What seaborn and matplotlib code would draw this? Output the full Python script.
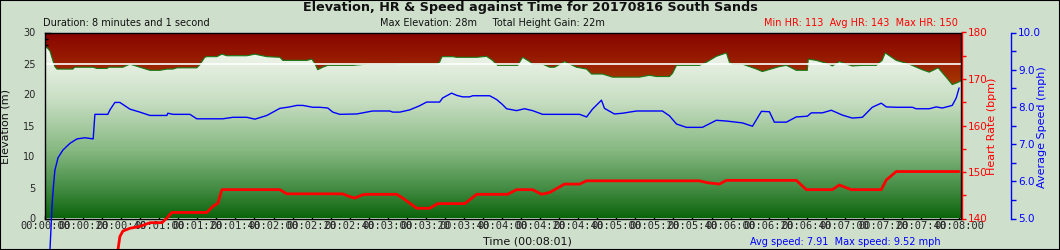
import numpy as np
import pandas as pd
import matplotlib
matplotlib.use("Agg")
import matplotlib.pyplot as plt
import matplotlib.ticker as mticker
from matplotlib.patches import Rectangle
import seaborn as sns

# ---------------- data ----------------
elev_t = [0, 1.6, 2.6, 4, 5.2, 6.3, 14.7, 15.5, 25.2, 27.3, 32.5, 33.5, 40.9, 44.6, 49.8,
          55.1, 60.3, 64, 67.2, 69.3, 79.7, 81.3, 83.9, 85, 90.2, 92.9, 95.5, 106, 110.2,
          116.5, 123.3, 124.9, 128.5, 137.5, 140.1, 141.7, 143.2, 145.9, 148.5, 161.6,
          168.9, 182.6, 187.8, 205.7, 207.2, 208.3, 208.8, 214.1, 216.2, 226.7, 231.9,
          235, 237.7, 248.2, 250.8, 254.5, 256, 261.3, 265, 267.6, 272.8, 279.1, 284.4,
          287, 292.8, 298, 312.2, 317.4, 321.1, 327.9, 329.5, 331.6, 343.6, 347.3, 352.5,
          357.8, 359.4, 361, 366.2, 373.6, 376.7, 385.6, 389.3, 394.5, 400.3, 400.8, 405,
          411.8, 413.4, 417.1, 423.9, 429.2, 436.5, 439.6, 441.2, 447, 453.8, 460.6,
          464.3, 469, 473.2, 476.4, 479, 481]
elev_m = [27.8, 27.4, 27.0, 25.6, 24.5, 24.1, 24.1, 24.4, 24.4, 24.2, 24.2, 24.4, 24.4, 24.9, 24.4,
          23.9, 23.9, 24.1, 24.1, 24.3, 24.3, 24.8, 26.0, 26.1, 26.1, 26.5, 26.25, 26.25, 26.5,
          26.1, 26.0, 25.5, 25.5, 25.5, 25.7, 25.0, 24.0, 24.4, 24.7, 24.7,
          24.9, 24.9, 24.95, 24.95, 25.2, 26.0, 26.1, 26.1, 26.0, 26.0, 26.15,
          25.5, 24.7, 24.7, 26.0, 25.3, 24.9, 24.9, 24.4, 24.4, 25.3, 24.4, 24.1,
          23.3, 23.3, 22.8, 22.8, 23.1, 22.9, 22.9, 23.4, 24.7, 24.7, 25.2, 26.15,
          26.7, 25.2, 24.9, 24.9, 24.1, 23.7, 24.5, 24.7, 23.9, 23.9, 25.7, 25.5,
          24.9, 24.6, 25.3, 24.6, 24.7, 24.7, 25.5, 26.7, 25.5, 24.9, 24.0,
          23.6, 24.3, 22.8, 21.6, 21.9, 22.2]

speed_t = [2.4, 2.6, 3.4, 3.8, 4.4, 5.2, 6.1, 6.8, 9.4, 13.1, 16.8, 21, 25.3, 26.2, 33, 34.1,
           36.7, 39.3, 44.6, 49.8, 55.1, 64, 64.5, 67.2, 76.1, 79.7, 93.4, 98.6, 106, 110.2,
           116.5, 123.3, 128.5, 132.2, 135.4, 140.6, 144.3, 148.5, 151.1, 154.8, 163.7,
           168.9, 172.1, 181, 182.6, 186.3, 191.5, 196.7, 200.4, 207.2, 208.8, 213.5,
           216.2, 219.3, 223, 224.6, 233.5, 237.1, 240.3, 242.4, 247.6, 251.8, 256,
           261.3, 280.7, 284.4, 287.5, 292.2, 293.8, 299, 303.3, 310.6, 324.2, 327.9,
           331.6, 336.8, 345.2, 352.5, 357.8, 366.2, 371.5, 376.2, 380.4, 383, 389.3,
           394.5, 400.3, 402.4, 408.2, 412.9, 418.7, 423.9, 429.2, 434.4, 439.1, 441.8,
           447, 455.4, 457.5, 464.3, 468, 471.2, 476.4, 478.5, 480]
speed_mph = [3.2, 4.15, 5.0, 5.44, 5.85, 6.3, 6.48, 6.63, 6.84, 7.02, 7.14, 7.17, 7.14, 7.8, 7.8, 7.92,
             8.12, 8.12, 7.94, 7.86, 7.77, 7.77, 7.83, 7.8, 7.8, 7.68, 7.68, 7.72, 7.72, 7.67,
             7.77, 7.96, 8.0, 8.04, 8.04, 7.99, 7.99, 7.97, 7.86, 7.8, 7.81,
             7.86, 7.89, 7.89, 7.86, 7.86, 7.92, 8.03, 8.13, 8.13, 8.24, 8.37,
             8.31, 8.27, 8.27, 8.3, 8.3, 8.2, 8.06, 7.95, 7.9, 7.95, 7.9,
             7.8, 7.8, 7.73, 7.94, 8.18, 7.96, 7.81, 7.83, 7.89, 7.89, 7.76,
             7.54, 7.45, 7.45, 7.64, 7.62, 7.57, 7.48, 7.88, 7.87, 7.59, 7.59,
             7.73, 7.75, 7.84, 7.84, 7.91, 7.78, 7.70, 7.72, 7.99, 8.10, 8.0,
             7.99, 7.99, 7.95, 7.95, 8.0, 7.97, 8.04, 8.24, 8.51]

hr_t = [0, 38.3, 39.3, 40.9, 44.6, 49.8, 55.1, 61.4, 64, 66.6, 85, 88.1, 90.8, 92.9, 123.3,
        127, 156.3, 160, 162.6, 166.8, 168.9, 184.7, 187.8, 195.2, 202, 206.2, 220.4,
        226.7, 242.9, 247.6, 256, 260.8, 265, 272.8, 280.7, 284.4, 343.6, 347.8, 354.1,
        357.8, 394.5, 399.8, 413.4, 417.1, 423.4, 439.1, 441.8, 447, 480]
hr_bpm = [113, 133.2, 136.1, 137.3, 137.9, 138.3, 139.1, 139.1, 140.1, 141.3, 141.3, 142.6, 143.3, 146.2, 146.2,
          145.3, 145.3, 144.7, 144.4, 145.1, 145.2, 145.2, 144.4, 142.2, 142.2, 143.2, 143.2,
          145.2, 145.2, 146.2, 146.2, 145.2, 145.6, 147.4, 147.4, 148.1, 148.1, 147.7, 147.4,
          148.2, 148.2, 146.2, 146.2, 147.2, 146.2, 146.2, 148.3, 150.1, 150.1]

elev_df = pd.DataFrame({"t": elev_t, "elev": elev_m})
speed_df = pd.DataFrame({"t": speed_t, "speed": speed_mph})
hr_df = pd.DataFrame({"t": hr_t, "hr": hr_bpm})

title = "Elevation, HR & Speed against Time for 20170816 South Sands"
t_end = 481

# ---------------- style ----------------
sns.set_theme(style="ticks")
plt.rcParams["font.family"] = ["DejaVu Sans"]
BG = "#cedfcc"

W, H = 1060, 250
fig = plt.figure(figsize=(W / 100, H / 100), dpi=100, facecolor=BG)
x0, x1, ytop, ybot = 45, 961, 32.5, 218.5
ax = fig.add_axes([x0 / W, 1 - ybot / H, (x1 - x0) / W, (ybot - ytop) / H])
ax.set_facecolor("none")

# gradient backgrounds
N = 300
lev = np.linspace(30, 0, N)
red_stops_e = [0, 22, 26, 30]
red_stops_c = [(185, 85, 0), (164, 52, 0), (150, 26, 0), (136, 4, 0)]
red = np.stack([np.interp(lev, red_stops_e, [c[i] for c in red_stops_c]) for i in range(3)], axis=-1) / 255
grn_stops_e = [0, 4.5, 11, 19, 28, 30]
grn_stops_c = [(10, 100, 10), (65, 138, 65), (135, 185, 130), (200, 222, 195), (245, 248, 242), (250, 252, 248)]
grn = np.stack([np.interp(lev, grn_stops_e, [c[i] for c in grn_stops_c]) for i in range(3)], axis=-1) / 255

ax.imshow(red[:, None, :], extent=[0, t_end, 0, 30], aspect="auto", origin="upper", zorder=0)
poly = ax.fill_between(elev_df["t"], elev_df["elev"], 0, facecolor="none", edgecolor="none")
gimg = ax.imshow(grn[:, None, :], extent=[0, t_end, 0, 30], aspect="auto", origin="upper", zorder=1)
gimg.set_clip_path(poly.get_paths()[0], transform=ax.transData)

sns.lineplot(data=elev_df, x="t", y="elev", ax=ax, color="#167a16", linewidth=0.8, zorder=2)
ax.axhline(25, color="white", linewidth=1.2, zorder=2.5)

ax.set_xlim(0, t_end)
ax.set_ylim(0, 30)
ax.set_xlabel("")
ax.set_ylabel("")

for s in ax.spines.values():
    s.set_color("black")
    s.set_linewidth(1)
ax.xaxis.set_major_locator(mticker.MultipleLocator(20))
ax.xaxis.set_minor_locator(mticker.MultipleLocator(10))
ax.xaxis.set_major_formatter(mticker.FuncFormatter(
    lambda v, p: f"{int(v)//3600:02d}:{int(v)%3600//60:02d}:{int(v)%60:02d}"))
ax.yaxis.set_major_locator(mticker.MultipleLocator(5))
ax.yaxis.set_minor_locator(mticker.MultipleLocator(1))
ax.tick_params(axis="x", which="both", direction="in", length=3, width=1, color="black",
               labelsize=7.5, pad=2)
ax.tick_params(axis="y", which="major", direction="in", length=4.5, width=1, color="black",
               labelsize=7, pad=7)
ax.tick_params(axis="y", which="minor", direction="in", length=2.5, width=1, color="black")
for lbl in ax.get_xticklabels():
    lbl.set_fontfamily("DejaVu Sans Mono")

# HR axis
ax2 = ax.twinx()
ax2.set_facecolor("none")
sns.lineplot(data=hr_df, x="t", y="hr", ax=ax2, color="#ff0000", linewidth=2.0)
for ln in ax2.lines:
    ln.set_clip_on(False)
ax2.set_ylim(140, 180)
ax2.set_xlim(0, t_end)
ax2.set_ylabel("")
for k in ["left", "top", "bottom"]:
    ax2.spines[k].set_visible(False)
ax2.spines["right"].set_color("#ff0000")
ax2.spines["right"].set_position(("outward", 1))
ax2.spines["right"].set_linewidth(1)
ax2.yaxis.set_major_locator(mticker.MultipleLocator(10))
ax2.yaxis.set_minor_locator(mticker.MultipleLocator(5))
ax2.tick_params(axis="y", which="both", direction="out", length=3, width=1, color="#ff0000",
                labelcolor="#ff0000", labelsize=7.5, pad=1)

# Speed axis
ax3 = ax.twinx()
ax3.set_facecolor("none")
sns.lineplot(data=speed_df, x="t", y="speed", ax=ax3, color="#0000ff", linewidth=1.0)
for ln in ax3.lines:
    ln.set_clip_on(False)
ax3.set_ylim(5, 10)
ax3.set_xlim(0, t_end)
ax3.set_ylabel("")
for k in ["left", "top", "bottom"]:
    ax3.spines[k].set_visible(False)
ax3.spines["right"].set_position(("axes", (1011 - x0) / (x1 - x0)))
ax3.spines["right"].set_color("#0000ff")
ax3.spines["right"].set_linewidth(1)
ax3.yaxis.set_major_locator(mticker.MultipleLocator(1))
ax3.yaxis.set_minor_locator(mticker.MultipleLocator(0.5))
ax3.yaxis.set_major_formatter(mticker.FormatStrFormatter("%.1f"))
ax3.tick_params(axis="y", which="both", direction="out", length=3.5, width=1, color="#0000ff",
                labelcolor="#0000ff", labelsize=7.5, pad=1.5)

# texts
fig.text(530 / W, 1 - 8 / H, title, ha="center", va="center", fontsize=9.2,
         fontweight="bold", color="#111111")
fig.text(43 / W, 1 - 23 / H, "Duration: 8 minutes and 1 second", ha="left", va="center",
         fontsize=7, color="#111111")
fig.text(380 / W, 1 - 23 / H, "Max Elevation: 28m     Total Height Gain: 22m", ha="left",
         va="center", fontsize=7, color="#111111")
fig.text(958 / W, 1 - 23 / H, "Min HR: 113  Avg HR: 143  Max HR: 150", ha="right",
         va="center", fontsize=7, color="#ff0000")
fig.text(527 / W, 1 - 242 / H, "Time (00:08:01)", ha="center", va="center", fontsize=8,
         color="#111111")
fig.text(750 / W, 1 - 242 / H, "Avg speed: 7.91  Max speed: 9.52 mph", ha="left",
         va="center", fontsize=7, color="#0000ff")
fig.text(6 / W, 1 - 126 / H, "Elevation (m)", rotation=90, ha="center", va="center",
         fontsize=8, color="#111111")
fig.text(992 / W, 1 - 126 / H, "Heart Rate (bpm)", rotation=90, ha="center", va="center",
         fontsize=8, color="#ff0000")
fig.text(1042 / W, 1 - 127 / H, "Average Speed (mph)", rotation=90, ha="center", va="center",
         fontsize=8, color="#0000ff")

fig.patches.append(Rectangle((0, 0), 1, 1, transform=fig.transFigure, fill=False,
                             edgecolor="black", linewidth=1.5, zorder=10))

fig.savefig("out.png", dpi=100, facecolor=BG)
